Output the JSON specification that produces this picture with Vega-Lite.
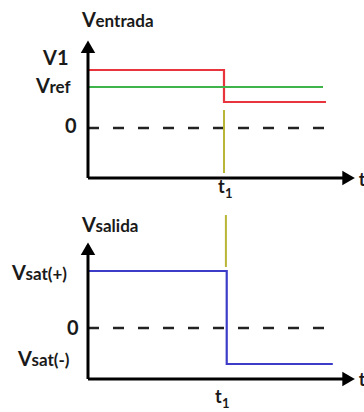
{
  "$schema": "https://vega.github.io/schema/vega-lite/v6.json",
  "padding": 0,
  "spacing": 0,
  "background": "white",
  "config": {"view": {"stroke": null}, "text": {"font": "Lato"}},
  "datasets": {
    "top_axes": [
      {"t": 0, "t2": 0, "v": -2.587, "v2": 4.3},
      {"t": 0, "t2": 9.65, "v": -2.587, "v2": -2.587}
    ],
    "top_zero": [{"t": 0, "t2": 8.82, "v": 0}],
    "top_signals": [
      {"series": "V1", "i": 1, "t": 0, "v": 3},
      {"series": "V1", "i": 2, "t": 5, "v": 3},
      {"series": "V1", "i": 3, "t": 5, "v": 1.345},
      {"series": "V1", "i": 4, "t": 8.75, "v": 1.345},
      {"series": "Vref", "i": 1, "t": 0, "v": 2.12},
      {"series": "Vref", "i": 2, "t": 8.64, "v": 2.12}
    ],
    "top_marker": [{"t": 5, "v": 0.931, "v2": -2.328}],
    "top_arrows": [
      {"t": 0, "v": 4.2, "dir": "up"},
      {"t": 9.58, "v": -2.587, "dir": "right"}
    ],
    "top_labels": [
      {"t": -0.22, "v": 5.225, "main": "V", "sub": "entrada"},
      {"t": -1.654, "v": 3.259, "main": "V1", "sub": ""},
      {"t": -1.912, "v": 1.811, "main": "V", "sub": "ref"},
      {"t": -0.846, "v": -0.259, "main": "0", "sub": ""}
    ],
    "top_tlabels": [
      {"t": 4.78, "v": -3.363, "main": "t", "sub": "1"},
      {"t": 9.95, "v": -3.0, "main": "t", "sub": ""}
    ],
    "bot_axes": [
      {"t": 0, "t2": 0, "v": -0.895, "v2": 1.45},
      {"t": 0, "t2": 9.65, "v": -0.895, "v2": -0.895}
    ],
    "bot_zero": [{"t": 0, "t2": 8.82, "v": 0}],
    "bot_signals": [
      {"series": "Vsalida", "i": 1, "t": 0, "v": 1},
      {"series": "Vsalida", "i": 2, "t": 5.1, "v": 1},
      {"series": "Vsalida", "i": 3, "t": 5.1, "v": -0.632},
      {"series": "Vsalida", "i": 4, "t": 9.0, "v": -0.632}
    ],
    "bot_marker": [{"t": 5.07, "v": 1.982, "v2": 1.07}],
    "bot_arrows": [
      {"t": 0, "v": 1.39, "dir": "up"},
      {"t": 9.58, "v": -0.895, "dir": "right"}
    ],
    "bot_labels": [
      {"t": -0.22, "v": 1.684, "main": "V", "sub": "salida"},
      {"t": -2.794, "v": 0.842, "main": "V", "sub": "sat(+)"},
      {"t": -0.772, "v": -0.123, "main": "0", "sub": ""},
      {"t": -2.574, "v": -0.667, "main": "V", "sub": "sat(-)"}
    ],
    "bot_tlabels": [
      {"t": 4.67, "v": -1.316, "main": "t", "sub": "1"},
      {"t": 9.95, "v": -1.018, "main": "t", "sub": ""}
    ]
  },
  "vconcat": [
    {
      "width": 364,
      "height": 205,
      "layer": [
        {
          "data": {"name": "top_zero"},
          "mark": {"type": "rule", "stroke": "#222222", "strokeWidth": 2.5, "strokeDash": [11, 14]},
          "encoding": {
            "x": {"field": "t", "type": "quantitative", "axis": null, "scale": {"domain": [-3.235, 10.147], "nice": false, "zero": false}},
            "x2": {"field": "t2"},
            "y": {"field": "v", "type": "quantitative", "axis": null, "scale": {"domain": [-3.983, 6.621], "nice": false, "zero": false}}
          }
        },
        {
          "data": {"name": "top_signals"},
          "mark": {"type": "line", "strokeWidth": 2.2},
          "encoding": {
            "x": {"field": "t", "type": "quantitative", "axis": null, "scale": {"domain": [-3.235, 10.147], "nice": false, "zero": false}},
            "y": {"field": "v", "type": "quantitative", "axis": null, "scale": {"domain": [-3.983, 6.621], "nice": false, "zero": false}},
            "color": {"field": "series", "type": "nominal", "legend": null, "scale": {"domain": ["V1", "Vref"], "range": ["#e8343c", "#3fb44a"]}},
            "order": {"field": "i", "type": "quantitative"}
          }
        },
        {
          "data": {"name": "top_marker"},
          "mark": {"type": "rule", "stroke": "#b9b537", "strokeWidth": 2},
          "encoding": {
            "x": {"field": "t", "type": "quantitative", "axis": null, "scale": {"domain": [-3.235, 10.147], "nice": false, "zero": false}},
            "y": {"field": "v", "type": "quantitative", "axis": null, "scale": {"domain": [-3.983, 6.621], "nice": false, "zero": false}},
            "y2": {"field": "v2"}
          }
        },
        {
          "data": {"name": "top_axes"},
          "mark": {"type": "rule", "stroke": "#000000", "strokeWidth": 3},
          "encoding": {
            "x": {"field": "t", "type": "quantitative", "axis": null, "scale": {"domain": [-3.235, 10.147], "nice": false, "zero": false}},
            "x2": {"field": "t2"},
            "y": {"field": "v", "type": "quantitative", "axis": null, "scale": {"domain": [-3.983, 6.621], "nice": false, "zero": false}},
            "y2": {"field": "v2"}
          }
        },
        {
          "data": {"name": "top_arrows"},
          "mark": {"type": "point", "filled": true, "color": "#000000", "opacity": 1, "size": 210},
          "encoding": {
            "x": {"field": "t", "type": "quantitative", "axis": null, "scale": {"domain": [-3.235, 10.147], "nice": false, "zero": false}},
            "y": {"field": "v", "type": "quantitative", "axis": null, "scale": {"domain": [-3.983, 6.621], "nice": false, "zero": false}},
            "shape": {"field": "dir", "type": "nominal", "legend": null, "scale": {"domain": ["up", "right"], "range": ["triangle-up", "triangle-right"]}}
          }
        },
        {
          "data": {"name": "top_labels"},
          "mark": {"type": "text", "align": "left", "baseline": "alphabetic", "fontSize": 20, "fontWeight": "bold", "color": "#1a1a1a"},
          "encoding": {
            "x": {"field": "t", "type": "quantitative", "axis": null, "scale": {"domain": [-3.235, 10.147], "nice": false, "zero": false}},
            "y": {"field": "v", "type": "quantitative", "axis": null, "scale": {"domain": [-3.983, 6.621], "nice": false, "zero": false}},
            "text": {"field": "main"}
          }
        },
        {
          "data": {"name": "top_labels"},
          "mark": {"type": "text", "align": "left", "baseline": "alphabetic", "fontSize": 17, "fontWeight": "bold", "dx": 13.5, "color": "#1a1a1a"},
          "encoding": {
            "x": {"field": "t", "type": "quantitative", "axis": null, "scale": {"domain": [-3.235, 10.147], "nice": false, "zero": false}},
            "y": {"field": "v", "type": "quantitative", "axis": null, "scale": {"domain": [-3.983, 6.621], "nice": false, "zero": false}},
            "text": {"field": "sub"}
          }
        },
        {
          "data": {"name": "top_tlabels"},
          "mark": {"type": "text", "align": "left", "baseline": "alphabetic", "fontSize": 18, "fontWeight": "bold", "color": "#1a1a1a", "clip": true},
          "encoding": {
            "x": {"field": "t", "type": "quantitative", "axis": null, "scale": {"domain": [-3.235, 10.147], "nice": false, "zero": false}},
            "y": {"field": "v", "type": "quantitative", "axis": null, "scale": {"domain": [-3.983, 6.621], "nice": false, "zero": false}},
            "text": {"field": "main"}
          }
        },
        {
          "data": {"name": "top_tlabels"},
          "mark": {"type": "text", "align": "left", "baseline": "alphabetic", "fontSize": 13, "fontWeight": "bold", "dx": 7, "dy": 5, "color": "#1a1a1a", "clip": true},
          "encoding": {
            "x": {"field": "t", "type": "quantitative", "axis": null, "scale": {"domain": [-3.235, 10.147], "nice": false, "zero": false}},
            "y": {"field": "v", "type": "quantitative", "axis": null, "scale": {"domain": [-3.983, 6.621], "nice": false, "zero": false}},
            "text": {"field": "sub"}
          }
        }
      ]
    },
    {
      "width": 364,
      "height": 207,
      "layer": [
        {
          "data": {"name": "bot_zero"},
          "mark": {"type": "rule", "stroke": "#222222", "strokeWidth": 2.5, "strokeDash": [11, 14]},
          "encoding": {
            "x": {"field": "t", "type": "quantitative", "axis": null, "scale": {"domain": [-3.235, 10.147], "nice": false, "zero": false}},
            "x2": {"field": "t2"},
            "y": {"field": "v", "type": "quantitative", "axis": null, "scale": {"domain": [-1.474, 2.158], "nice": false, "zero": false}}
          }
        },
        {
          "data": {"name": "bot_signals"},
          "mark": {"type": "line", "strokeWidth": 2.2, "color": "#3c3cc8"},
          "encoding": {
            "x": {"field": "t", "type": "quantitative", "axis": null, "scale": {"domain": [-3.235, 10.147], "nice": false, "zero": false}},
            "y": {"field": "v", "type": "quantitative", "axis": null, "scale": {"domain": [-1.474, 2.158], "nice": false, "zero": false}},
            "order": {"field": "i", "type": "quantitative"}
          }
        },
        {
          "data": {"name": "bot_marker"},
          "mark": {"type": "rule", "stroke": "#b9b537", "strokeWidth": 2},
          "encoding": {
            "x": {"field": "t", "type": "quantitative", "axis": null, "scale": {"domain": [-3.235, 10.147], "nice": false, "zero": false}},
            "y": {"field": "v", "type": "quantitative", "axis": null, "scale": {"domain": [-1.474, 2.158], "nice": false, "zero": false}},
            "y2": {"field": "v2"}
          }
        },
        {
          "data": {"name": "bot_axes"},
          "mark": {"type": "rule", "stroke": "#000000", "strokeWidth": 3},
          "encoding": {
            "x": {"field": "t", "type": "quantitative", "axis": null, "scale": {"domain": [-3.235, 10.147], "nice": false, "zero": false}},
            "x2": {"field": "t2"},
            "y": {"field": "v", "type": "quantitative", "axis": null, "scale": {"domain": [-1.474, 2.158], "nice": false, "zero": false}},
            "y2": {"field": "v2"}
          }
        },
        {
          "data": {"name": "bot_arrows"},
          "mark": {"type": "point", "filled": true, "color": "#000000", "opacity": 1, "size": 210},
          "encoding": {
            "x": {"field": "t", "type": "quantitative", "axis": null, "scale": {"domain": [-3.235, 10.147], "nice": false, "zero": false}},
            "y": {"field": "v", "type": "quantitative", "axis": null, "scale": {"domain": [-1.474, 2.158], "nice": false, "zero": false}},
            "shape": {"field": "dir", "type": "nominal", "legend": null, "scale": {"domain": ["up", "right"], "range": ["triangle-up", "triangle-right"]}}
          }
        },
        {
          "data": {"name": "bot_labels"},
          "mark": {"type": "text", "align": "left", "baseline": "alphabetic", "fontSize": 20, "fontWeight": "bold", "color": "#1a1a1a"},
          "encoding": {
            "x": {"field": "t", "type": "quantitative", "axis": null, "scale": {"domain": [-3.235, 10.147], "nice": false, "zero": false}},
            "y": {"field": "v", "type": "quantitative", "axis": null, "scale": {"domain": [-1.474, 2.158], "nice": false, "zero": false}},
            "text": {"field": "main"}
          }
        },
        {
          "data": {"name": "bot_labels"},
          "mark": {"type": "text", "align": "left", "baseline": "alphabetic", "fontSize": 17, "fontWeight": "bold", "dx": 13.5, "color": "#1a1a1a"},
          "encoding": {
            "x": {"field": "t", "type": "quantitative", "axis": null, "scale": {"domain": [-3.235, 10.147], "nice": false, "zero": false}},
            "y": {"field": "v", "type": "quantitative", "axis": null, "scale": {"domain": [-1.474, 2.158], "nice": false, "zero": false}},
            "text": {"field": "sub"}
          }
        },
        {
          "data": {"name": "bot_tlabels"},
          "mark": {"type": "text", "align": "left", "baseline": "alphabetic", "fontSize": 18, "fontWeight": "bold", "color": "#1a1a1a", "clip": true},
          "encoding": {
            "x": {"field": "t", "type": "quantitative", "axis": null, "scale": {"domain": [-3.235, 10.147], "nice": false, "zero": false}},
            "y": {"field": "v", "type": "quantitative", "axis": null, "scale": {"domain": [-1.474, 2.158], "nice": false, "zero": false}},
            "text": {"field": "main"}
          }
        },
        {
          "data": {"name": "bot_tlabels"},
          "mark": {"type": "text", "align": "left", "baseline": "alphabetic", "fontSize": 13, "fontWeight": "bold", "dx": 7, "dy": 5, "color": "#1a1a1a", "clip": true},
          "encoding": {
            "x": {"field": "t", "type": "quantitative", "axis": null, "scale": {"domain": [-3.235, 10.147], "nice": false, "zero": false}},
            "y": {"field": "v", "type": "quantitative", "axis": null, "scale": {"domain": [-1.474, 2.158], "nice": false, "zero": false}},
            "text": {"field": "sub"}
          }
        }
      ]
    }
  ]
}
